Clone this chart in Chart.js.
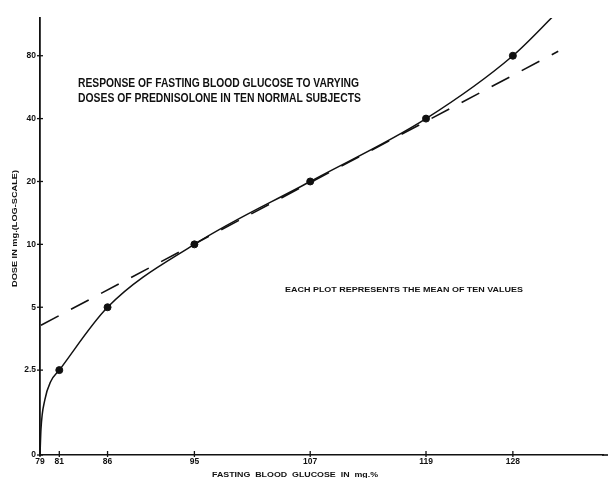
<!DOCTYPE html>
<html>
<head>
<meta charset="utf-8">
<script src="https://cdn.jsdelivr.net/npm/chart.js@4.4.0/dist/chart.umd.min.js"></script>
<style>
  body { margin: 0; background: #fff; }
  canvas { display: block; }
</style>
</head>
<body>
<canvas id="glucoseChart" width="608" height="478"></canvas>
<script>
// data
const glucose = [81, 86, 95, 107, 119, 128];
const dose = [2.5, 5, 10, 20, 40, 80];

// hand-drawn curve trace (start at origin, runs past the last plot)
const curveGlucose = [79, 79.1, 79.5, 80.1, 81, 86, 95, 107, 119, 128, 132.5];
const curveDose = [0, 1.3, 1.8, 2.2, 2.5, 5, 10, 20, 40, 80, 128];

// dashed reference line
const dashGlucose = [79.1, 132.7];
const dashDose = [4.1, 84];

const xTicks = [79, 81, 86, 95, 107, 119, 128];
const yTickDoses = [0, 2.5, 5, 10, 20, 40, 80];
const yTickLabels = ['0', '2.5', '5', '10', '20', '40', '80'];

// log scale position, "0" sits at the foot of the axis
function toPos(d) {
    if (d === 0) return -1.35;
    return Math.log2(d / 2.5);
}

function pts(xs, ys) {
    return xs.map((x, i) => ({ x: x, y: toPos(ys[i]) }));
}

const ink = '#111';
const face = '"Liberation Sans", Arial, sans-serif';

// free text and the tick marks that cross the axes
const notesPlugin = {
    id: 'notes',
    afterDraw(chart) {
        const c = chart.ctx;
        const xs = chart.scales.x, ys = chart.scales.y;
        const area = chart.chartArea;

        c.save();
        c.strokeStyle = ink;
        c.lineWidth = 1.3;
        xTicks.forEach(v => {
            const px = xs.getPixelForValue(v);
            c.beginPath();
            c.moveTo(px, area.bottom - 4);
            c.lineTo(px, area.bottom + 2);
            c.stroke();
        });
        yTickDoses.forEach(d => {
            const py = ys.getPixelForValue(toPos(d));
            c.beginPath();
            c.moveTo(area.left - 3, py);
            c.lineTo(area.left + 3, py);
            c.stroke();
        });
        // axis runs off the right edge of the sheet
        c.lineWidth = 1.6;
        c.beginPath();
        c.moveTo(area.right - 1, area.bottom);
        c.lineTo(chart.width, area.bottom);
        c.stroke();
        c.restore();

        function put(text, x, y, size, width, rot) {
            c.save();
            c.font = 'bold ' + size + 'px ' + face;
            c.fillStyle = ink;
            c.textBaseline = 'alphabetic';
            const w = c.measureText(text).width;
            c.translate(x, y);
            if (rot) c.rotate(-Math.PI / 2);
            c.scale(width / w, 1);
            c.fillText(text, 0, 0);
            c.restore();
        }
        put('RESPONSE OF FASTING BLOOD GLUCOSE TO VARYING', 78, 87, 12.5, 281);
        put('DOSES OF PREDNISOLONE IN TEN NORMAL SUBJECTS', 78, 102, 12.5, 283);
        put('EACH PLOT REPRESENTS THE MEAN OF TEN VALUES', 285, 292, 8, 238);
        put('FASTING  BLOOD  GLUCOSE  IN  mg.%', 212, 477, 8, 166);
        put('DOSE IN mg.(LOG-SCALE)', 16.5, 287, 8, 117, true);
    }
};

var ctx = document.getElementById('glucoseChart').getContext('2d');
new Chart(ctx, {
    type: 'scatter',
    data: {
        datasets: [
            {
                data: pts(curveGlucose, curveDose),
                showLine: true,
                borderColor: ink,
                borderWidth: 1.5,
                pointRadius: 0,
                cubicInterpolationMode: 'monotone'
            },
            {
                data: pts(dashGlucose, dashDose),
                showLine: true,
                borderColor: ink,
                borderWidth: 1.6,
                borderDash: [20, 14],
                pointRadius: 0
            },
            {
                data: pts(glucose, dose),
                showLine: false,
                pointRadius: 3.5,
                pointBackgroundColor: ink,
                pointBorderColor: ink
            }
        ]
    },
    options: {
        responsive: false,
        animation: false,
        layout: { padding: { top: 18, right: 0, left: 0, bottom: 0 } },
        plugins: {
            legend: { display: false },
            tooltip: { enabled: false }
        },
        scales: {
            x: {
                type: 'linear',
                min: 79,
                max: 137.34,
                afterFit: function (s) {
                    s.height = 23;
                    s.paddingLeft = 0;
                    s.paddingRight = 0;
                },
                afterBuildTicks: function (s) {
                    s.ticks = xTicks.map(v => ({ value: v }));
                },
                grid: { drawOnChartArea: false, drawTicks: false },
                border: { display: true, color: ink, width: 1.6 },
                ticks: {
                    color: ink,
                    padding: 2,
                    maxRotation: 0,
                    autoSkip: false,
                    font: { family: face, size: 8.5, weight: 'bold' },
                    callback: v => String(v)
                }
            },
            y: {
                type: 'linear',
                min: -1.35,
                max: 5.6,
                afterFit: function (s) {
                    s.width = 40;
                    s.paddingTop = 0;
                    s.paddingBottom = 0;
                },
                afterBuildTicks: function (s) {
                    s.ticks = yTickDoses.map(d => ({ value: toPos(d) }));
                },
                grid: { drawOnChartArea: false, drawTicks: false },
                border: { display: true, color: ink, width: 1.8 },
                ticks: {
                    color: ink,
                    padding: 4,
                    autoSkip: false,
                    font: { family: face, size: 8.5, weight: 'bold' },
                    callback: function (v, i) { return yTickLabels[i]; }
                }
            }
        }
    },
    plugins: [notesPlugin]
});
</script>
</body>
</html>
